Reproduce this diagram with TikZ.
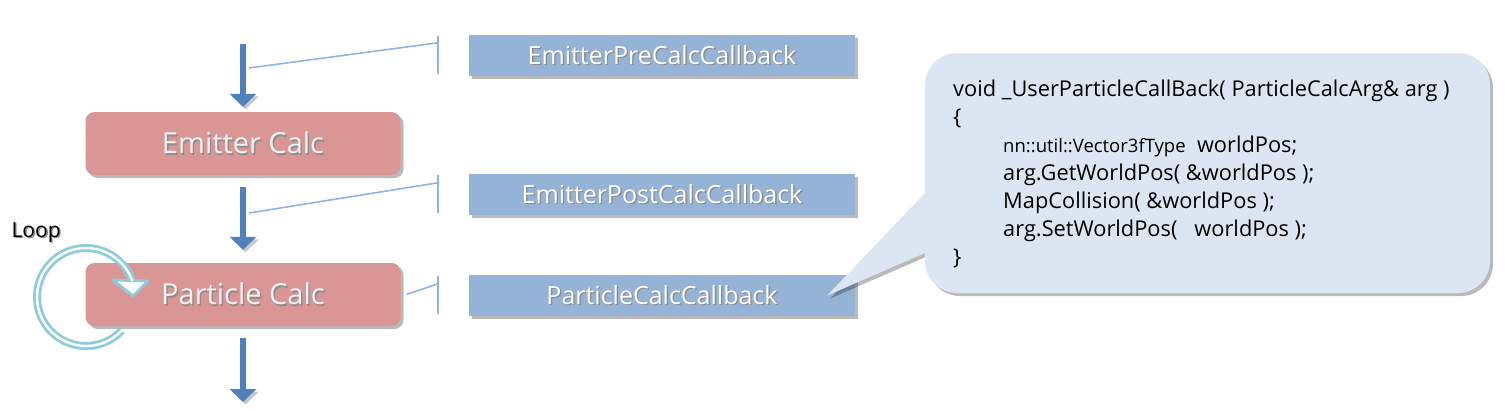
\documentclass[tikz,border=0pt]{standalone}
\usepackage{fontspec}
\setmainfont{Open Sans}
\usetikzlibrary{arrows.meta, positioning, calc, shadows}

\definecolor{calcred}{HTML}{D99694}
\definecolor{cbblue}{HTML}{95B3D7}
\definecolor{flowblue}{HTML}{4F81BD}
\definecolor{linkblue}{HTML}{8EB4E3}
\definecolor{loopblue}{HTML}{8FCCDB}
\definecolor{bubblefill}{HTML}{DCE6F2}

% white text with a soft dark shadow
\newcommand{\sdw}[1]{\makebox[0pt][l]{\kern1.4pt\raisebox{-1.4pt}{\color{black!45}#1}}#1}

\begin{document}
\begin{tikzpicture}[
    x=1pt, y=-1pt,
    boxshadow/.style={drop shadow={shadow xshift=3pt, shadow yshift=-3pt, opacity=0.27, fill=black}},
    calcbox/.style={rounded corners=9pt, fill=calcred, text=white!95!black, minimum width=315pt, minimum height=63pt, inner sep=0pt, font=\fontsize{29}{34}\selectfont, boxshadow},
    cbbox/.style={fill=cbblue, text=white, minimum width=386pt, minimum height=41pt, inner sep=0pt, font=\fontsize{25}{30}\selectfont, boxshadow},
    flow/.style={draw=flowblue, line width=6pt, -{Triangle[width=26pt, length=13pt]},
        preaction={draw=black!22, transform canvas={shift={(2.5pt,-2.5pt)}}}},
    link/.style={draw=linkblue, line width=1.6pt},
    loopring/.style={draw=loopblue, double=white, double distance=2.4pt, line width=2.8pt},
    bubble/.style={fill=bubblefill, boxshadow},
    code/.style={anchor=north west, inner sep=0pt, align=left, font=\fontsize{21.8}{28}\selectfont},
]
\useasboundingbox (0,0) rectangle (1509,410);

% === Main flow ===
\node[calcbox] (emit) at (243,143.5) {\sdw{Emitter Calc}};
\node[calcbox] (part) at (243,294.5) {\sdw{Particle Calc}};
\coordinate (top) at (243,44);
\coordinate (bot) at (243,402);
\draw[flow] (top) -- ([yshift=5pt]emit.north);
\draw[flow] ([yshift=-12pt]emit.south) -- ([yshift=13pt]part.north);
\draw[flow] ([yshift=-12pt]part.south) -- (bot);

% === Callbacks ===
\node[cbbox] (pre)  at (662,55.5)  {\sdw{EmitterPreCalcCallback}};
\node[cbbox] (post) at (662,194.5) {\sdw{EmitterPostCalcCallback}};
\node[cbbox] (pcb)  at (662,295.5) {\sdw{ParticleCalcCallback}};

% links from the flow to the callbacks
\coordinate (l1) at (249,68);
\coordinate (l2) at (249,213);
\draw[link] (l1) -- ([xshift=-31pt,yshift=-8pt]pre.north west);
\draw[link] (l2) -- ([xshift=-31pt,yshift=-9pt]post.north west);
\draw[link] ([xshift=6pt]part.east) -- ([xshift=-31pt,yshift=-9pt]pcb.north west);
\foreach \n in {pre, post, pcb} {
    \draw[link] ([xshift=-31pt,yshift=-1pt]\n.north west) -- ([xshift=-31pt,yshift=2pt]\n.south west);
}

% === Loop ===
\node[font=\fontsize{21}{25}\selectfont, anchor=base west] (looplbl) at (8,237) {\sdw{Loop}};
\draw[draw=loopblue, fill=white, line width=2.8pt, line join=round] (113,280) -- (148,281) -- (133,296) -- cycle;
\draw[loopring] (86,297) ++(43:49) arc[start angle=43, end angle=341, radius=49];

% === Code bubble ===
\coordinate (bnw) at (925,53);
\coordinate (bse) at (1490,293);
\coordinate (bup) at (925,193);
\coordinate (blo) at (925,253);
\path[bubble] ([xshift=-28pt]pcb.east) -- (bup) [rounded corners=32pt] -- (bnw) -- (bnw -| bse) -- (bse) -- (bse -| bnw) [sharp corners] -- (blo) -- cycle;
\node[code] (src) at (953,80) {
void \_UserParticleCallBack( ParticleCalcArg\& arg )\\
\{\\
\hspace*{50pt}{\fontsize{18.5}{28}\selectfont nn::util::Vector3fType}\ \ worldPos;\\
\hspace*{50pt}arg.GetWorldPos( \&worldPos );\\
\hspace*{50pt}MapCollision( \&worldPos );\\
\hspace*{50pt}arg.SetWorldPos(\ \ \ worldPos );\\
\}};
\end{tikzpicture}
\end{document}
